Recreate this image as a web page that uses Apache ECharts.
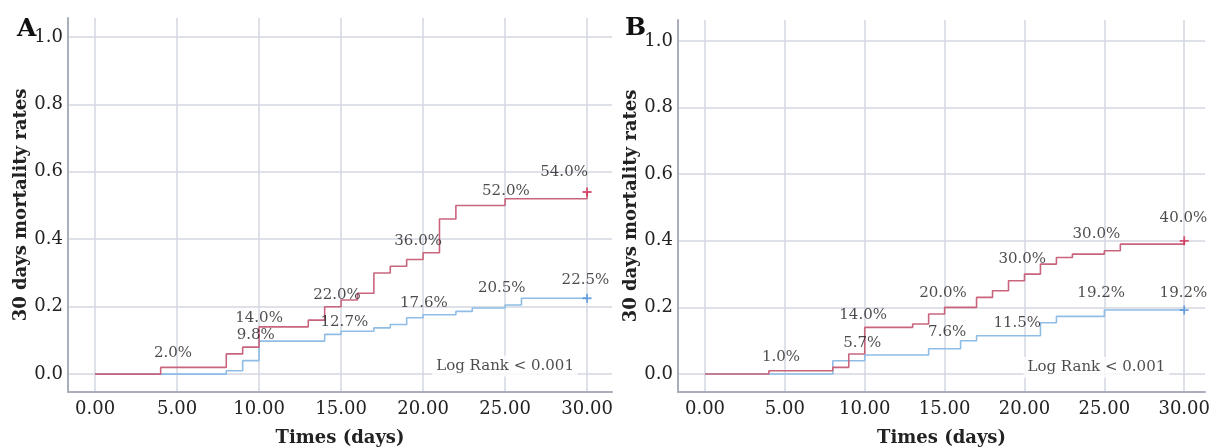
<!DOCTYPE html>
<html>
<head>
<meta charset="utf-8">
<script src="https://cdn.jsdelivr.net/npm/echarts@6/dist/echarts.min.js"></script>
<style>
  html, body { margin: 0; padding: 0; background: #fff; }
  #chart { width: 1211px; height: 448px; }
</style>
</head>
<body>
<div id="chart"></div>
<script>
// panel A, step curves (time, cumulative mortality)
const timesRedA = [0, 4, 8, 9, 10, 13, 14, 15, 16, 17, 18, 19, 20, 21, 22, 25, 30];
const valuesRedA = [0, 0.02, 0.06, 0.08, 0.14, 0.16, 0.20, 0.22, 0.24, 0.30, 0.32, 0.34, 0.36, 0.46, 0.50, 0.52, 0.54];
const timesBlueA = [0, 8, 9, 10, 14, 15, 17, 18, 19, 20, 22, 23, 25, 26, 30];
const valuesBlueA = [0, 0.01, 0.04, 0.098, 0.118, 0.127, 0.137, 0.147, 0.167, 0.176, 0.186, 0.196, 0.205, 0.225, 0.225];

// panel B
const timesRedB = [0, 4, 8, 9, 10, 13, 14, 15, 17, 18, 19, 20, 21, 22, 23, 25, 26, 30];
const valuesRedB = [0, 0.01, 0.02, 0.06, 0.14, 0.15, 0.18, 0.20, 0.23, 0.25, 0.28, 0.30, 0.33, 0.35, 0.36, 0.37, 0.39, 0.40];
const timesBlueB = [0, 8, 10, 14, 16, 17, 21, 22, 25, 30];
const valuesBlueB = [0, 0.04, 0.057, 0.076, 0.10, 0.115, 0.154, 0.173, 0.192, 0.192];

// annotation labels
const labelTextsA = ['2.0%', '14.0%', '9.8%', '22.0%', '12.7%', '36.0%', '17.6%', '52.0%', '20.5%', '54.0%', '22.5%'];
const labelTimesA = [4.75, 10.0, 9.8, 14.75, 15.2, 19.7, 20.05, 25.05, 24.8, 28.6, 29.9];
const labelValuesA = [0.063, 0.165, 0.116, 0.233, 0.155, 0.394, 0.212, 0.543, 0.254, 0.60, 0.278];
const labelTextsB = ['1.0%', '14.0%', '5.7%', '20.0%', '7.6%', '30.0%', '11.5%', '30.0%', '19.2%', '40.0%', '19.2%'];
const labelTimesB = [4.76, 9.9, 9.84, 14.9, 15.16, 19.86, 19.55, 24.5, 24.8, 29.95, 29.95];
const labelValuesB = [0.051, 0.177, 0.093, 0.243, 0.126, 0.345, 0.153, 0.42, 0.243, 0.468, 0.243];

const xTicks = [0, 5, 10, 15, 20, 25, 30];
const yTicks = [0, 0.2, 0.4, 0.6, 0.8, 1.0];
const testNote = 'Log Rank < 0.001';

const FONT = 'DejaVu Serif';
const RED = '#c9647d';
const BLUE = '#8fbde6';
const GRIDC = '#d3d7e1';
const AXISC = '#a9aeba';
const cross = 'path://M4,0h2v4h4v2h-4v4h-2v-4h-4v-2h4z';

const zip = (a, b) => a.map((t, i) => [t, b[i]]);

function xAxisFor(idx, min, max) {
    return {
        type: 'value', gridIndex: idx, min: min, max: max,
        name: 'Times (days)', nameLocation: 'middle', nameGap: 37,
        nameTextStyle: { fontFamily: FONT, fontWeight: 'bold', fontSize: 18, color: '#222' },
        axisLine: { show: true, onZero: false, lineStyle: { color: AXISC, width: 2 } },
        axisTick: { show: false, customValues: xTicks },
        axisLabel: { customValues: xTicks, margin: 8, fontFamily: FONT, fontSize: 18, color: '#222',
                     formatter: v => v.toFixed(2) },
        splitLine: { show: true, lineStyle: { color: GRIDC, width: 1.5 } }
    };
}
function yAxisFor(idx, min, max) {
    return {
        type: 'value', gridIndex: idx, min: min, max: max,
        name: '30 days mortality rates', nameLocation: 'middle', nameGap: 37,
        nameTextStyle: { fontFamily: FONT, fontWeight: 'bold', fontSize: 18, color: '#222' },
        axisLine: { show: true, onZero: false, lineStyle: { color: AXISC, width: 2 } },
        axisTick: { show: false, customValues: yTicks },
        axisLabel: { customValues: yTicks, margin: 5, fontFamily: FONT, fontSize: 18, color: '#222',
                     formatter: v => v.toFixed(1) },
        splitLine: { show: true, lineStyle: { color: GRIDC, width: 1.5 } }
    };
}
function curve(idx, data, color) {
    return {
        type: 'line', xAxisIndex: idx, yAxisIndex: idx, step: 'end', data: data,
        symbol: 'none', lineStyle: { color: color, width: 1.6 }, silent: true, z: 3
    };
}
function censor(idx, t, v, color) {
    return {
        type: 'scatter', xAxisIndex: idx, yAxisIndex: idx, data: [[t, v]],
        symbol: cross, symbolSize: 9, itemStyle: { color: color }, silent: true, z: 4
    };
}
function labels(idx, times, values, texts) {
    return {
        type: 'scatter', xAxisIndex: idx, yAxisIndex: idx, data: zip(times, values),
        symbolSize: 0, silent: true, z: 5,
        label: { show: true, position: 'inside', formatter: p => texts[p.dataIndex],
                 fontFamily: FONT, fontSize: 15, color: '#1e1e1e' }
    };
}
function note(idx, t, v) {
    return {
        type: 'scatter', xAxisIndex: idx, yAxisIndex: idx, data: [[t, v]],
        symbolSize: 0, silent: true, z: 5,
        label: { show: true, position: 'inside', formatter: testNote, fontFamily: FONT,
                 fontSize: 15, color: '#1e1e1e', backgroundColor: '#fff', padding: [3, 4] }
    };
}

const chart = echarts.init(document.getElementById('chart'));
chart.setOption({
    animation: false,
    title: [
        { text: 'A', left: 12, top: 12, textStyle: { fontFamily: FONT, fontWeight: 'bold', fontSize: 25, color: '#111' } },
        { text: 'B', left: 620, top: 11, textStyle: { fontFamily: FONT, fontWeight: 'bold', fontSize: 25, color: '#111' } }
    ],
    grid: [
        { left: 68, top: 18, width: 544, height: 374, outerBoundsMode: 'none', containLabel: false },
        { left: 678, top: 20, width: 527, height: 372, outerBoundsMode: 'none', containLabel: false }
    ],
    xAxis: [xAxisFor(0, -1.65, 31.52), xAxisFor(1, -1.69, 31.3)],
    yAxis: [yAxisFor(0, -0.053, 1.056), yAxisFor(1, -0.054, 1.063)],
    series: [
        curve(0, zip(timesBlueA, valuesBlueA), BLUE),
        curve(0, zip(timesRedA, valuesRedA), RED),
        censor(0, 30, valuesBlueA[valuesBlueA.length - 1], '#4f91d8'),
        censor(0, 30, valuesRedA[valuesRedA.length - 1], '#d42a52'),
        labels(0, labelTimesA, labelValuesA, labelTextsA),
        note(0, 25, 0.024),
        curve(1, zip(timesBlueB, valuesBlueB), BLUE),
        curve(1, zip(timesRedB, valuesRedB), RED),
        censor(1, 30, valuesBlueB[valuesBlueB.length - 1], '#4f91d8'),
        censor(1, 30, valuesRedB[valuesRedB.length - 1], '#d42a52'),
        labels(1, labelTimesB, labelValuesB, labelTextsB),
        note(1, 24.5, 0.02)
    ]
});
</script>
</body>
</html>
